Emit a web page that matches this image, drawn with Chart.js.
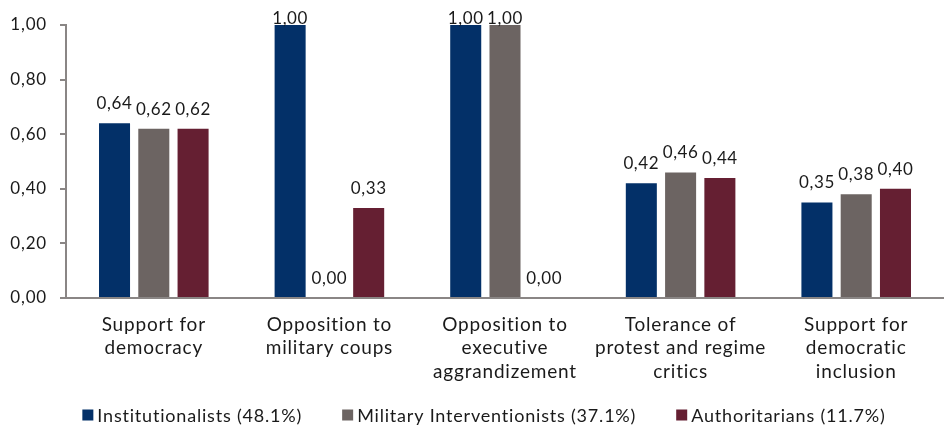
<!DOCTYPE html>
<html>
<head>
<meta charset="utf-8">
<script src="https://cdn.jsdelivr.net/npm/chart.js@4.4.1/dist/chart.umd.min.js"></script>
<style>
  html, body { margin: 0; padding: 0; background: #fff; }
</style>
</head>
<body>
<canvas id="chart" width="944" height="431"></canvas>
<script>
const CATEGORIES = [
    ['Support for', 'democracy'],
    ['Opposition to', 'military coups'],
    ['Opposition to', 'executive', 'aggrandizement'],
    ['Tolerance of', 'protest and regime', 'critics'],
    ['Support for', 'democratic', 'inclusion']
];
const SERIES_NAMES = ['Institutionalists (48.1%)', 'Military Interventionists (37.1%)', 'Authoritarians (11.7%)'];
const INSTITUTIONALISTS = [0.64, 1.00, 1.00, 0.42, 0.35];
const MILITARY = [0.62, 0.00, 1.00, 0.46, 0.38];
const AUTHORITARIANS = [0.62, 0.33, 0.00, 0.44, 0.40];
const Y_TICKS = [0, 0.2, 0.4, 0.6, 0.8, 1.0];

const COLORS = ['#033068', '#6c6462', '#651f32'];
const AXIS = '#8a8685';
const TEXT = '#1a1a1a';
const FONT = "Lato, 'Open Sans', sans-serif";
const fmt = v => v.toFixed(2).replace('.', ',');

// a little tracking on all text, like the original export
const spacing = {
    id: 'spacing',
    beforeUpdate(chart) { chart.ctx.letterSpacing = '0.8px'; },
    beforeDraw(chart) { chart.ctx.letterSpacing = '0.8px'; }
};

// value above each bar
const valueLabels = {
    id: 'valueLabels',
    afterDatasetsDraw(chart) {
        const c = chart.ctx;
        c.save();
        c.font = '17px ' + FONT;
        c.letterSpacing = '0.6px';
        c.fillStyle = TEXT;
        c.textAlign = 'center';
        c.textBaseline = 'alphabetic';
        chart.data.datasets.forEach((ds, i) => {
            chart.getDatasetMeta(i).data.forEach((bar, j) => {
                c.fillText(fmt(ds.data[j]), bar.x, Math.max(bar.y - 14, 24));
            });
        });
        c.restore();
    }
};

// legend drawn by hand so the spacing can follow the original
const bottomLegend = {
    id: 'bottomLegend',
    afterDraw(chart) {
        const c = chart.ctx;
        const box = 11, gapText = 4, gapItem = 40, y = 415;
        c.save();
        c.font = '18px ' + FONT;
        c.letterSpacing = '0.8px';
        c.textBaseline = 'middle';
        c.textAlign = 'left';
        const widths = SERIES_NAMES.map(t => c.measureText(t).width);
        const total = widths.reduce((a, w) => a + box + gapText + w, 0) + gapItem * (SERIES_NAMES.length - 1);
        let x = (chart.width - total) / 2 + 12;
        SERIES_NAMES.forEach((t, i) => {
            c.fillStyle = COLORS[i];
            c.fillRect(x, y - box / 2, box, box);
            c.fillStyle = TEXT;
            c.fillText(t, x + box + gapText, y + 1);
            x += box + gapText + widths[i] + gapItem;
        });
        c.restore();
    }
};

const ctx = document.getElementById('chart').getContext('2d');
new Chart(ctx, {
    type: 'bar',
    data: {
        labels: CATEGORIES,
        datasets: [
            { label: SERIES_NAMES[0], data: INSTITUTIONALISTS, backgroundColor: COLORS[0] },
            { label: SERIES_NAMES[1], data: MILITARY, backgroundColor: COLORS[1] },
            { label: SERIES_NAMES[2], data: AUTHORITARIANS, backgroundColor: COLORS[2] }
        ]
    },
    options: {
        responsive: false,
        animation: false,
        datasets: { bar: { categoryPercentage: 0.671, barPercentage: 0.79 } },
        layout: { padding: { top: 25, right: 0, left: 6, bottom: 33 } },
        plugins: {
            legend: { display: false },
            tooltip: { enabled: false }
        },
        scales: {
            x: {
                afterFit: a => { a.height = 100; },
                grid: { display: false, drawTicks: false },
                border: { display: true, color: AXIS, width: 2 },
                ticks: {
                    color: TEXT, font: { family: FONT, size: 19, lineHeight: 1.24 },
                    maxRotation: 0, autoSkip: false, padding: 15
                }
            },
            y: {
                min: 0,
                max: 1,
                afterFit: a => { a.width = 60; },
                afterBuildTicks: axis => { axis.ticks = Y_TICKS.map(v => ({ value: v })); },
                grid: { display: true, drawOnChartArea: false, drawTicks: true, tickLength: 6, color: AXIS, lineWidth: 2 },
                border: { display: true, color: AXIS, width: 2 },
                ticks: { color: TEXT, font: { family: FONT, size: 17 }, padding: 13, callback: v => fmt(v) }
            }
        }
    },
    plugins: [spacing, valueLabels, bottomLegend]
});
</script>
</body>
</html>
